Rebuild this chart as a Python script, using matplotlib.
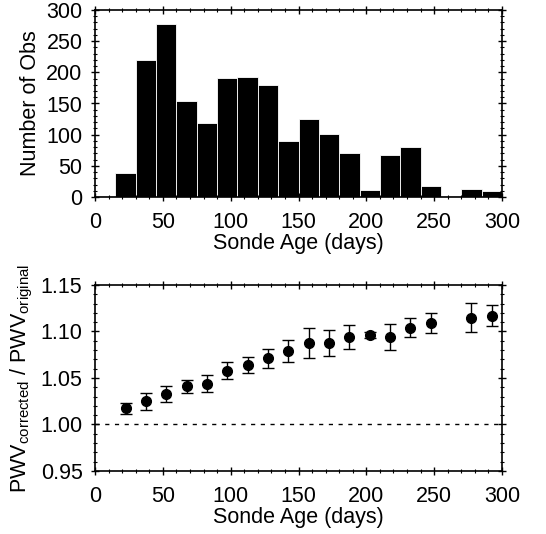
import matplotlib
matplotlib.use("Agg")
import matplotlib.pyplot as plt
from matplotlib.ticker import MultipleLocator
import numpy as np

plt.rcParams['font.family'] = ['Liberation Sans', 'DejaVu Sans']
plt.rcParams['font.size'] = 15.5

# Histogram data (15-day bins)
bin_edges = [0, 15, 30, 45, 60, 75, 90, 105, 120, 135, 150, 165, 180, 195, 210, 225, 240, 255, 270, 285, 300]
counts = [0, 38, 220, 277, 154, 119, 191, 193, 180, 90, 125, 101, 71, 12, 67, 80, 18, 0, 13, 10]

# Ratio data
ages = [22.5, 37.5, 52.5, 67.5, 82.5, 97.5, 112.5, 127.5, 142.5, 157.5, 172.5,
        187.5, 202.5, 217.5, 232.5, 247.5, 277.5, 292.5]
ratio = [1.0175, 1.025, 1.033, 1.041, 1.044, 1.058, 1.064, 1.071, 1.079, 1.088, 1.088,
         1.094, 1.096, 1.094, 1.104, 1.109, 1.115, 1.117]
ratio_err = [0.006, 0.009, 0.0085, 0.007, 0.0095, 0.009, 0.009, 0.010, 0.012, 0.016, 0.014,
             0.013, 0.003, 0.014, 0.010, 0.011, 0.016, 0.011]

fig = plt.figure(figsize=(5.46, 5.34), dpi=100)
ax1 = fig.add_axes([95/546, 1-197/534, 407/546, 187/534])
ax2 = fig.add_axes([95/546, 1-471/534, 407/546, 186/534])

lefts = bin_edges[:-1]
widths = np.diff(bin_edges)
ax1.bar(lefts, counts, width=widths, align='edge', color='black', edgecolor='white', linewidth=0.6)
ax1.plot([0, 15], [0, 0], color='black', lw=1)
ax1.plot([255, 270], [0, 0], color='black', lw=1)
ax1.set_xlim(0, 300)
ax1.set_ylim(0, 300)
ax1.set_ylabel('Number of Obs', labelpad=4)
ax1.set_xlabel('Sonde Age (days)', labelpad=0)
ax1.xaxis.set_major_locator(MultipleLocator(50))
ax1.xaxis.set_minor_locator(MultipleLocator(10))
ax1.yaxis.set_major_locator(MultipleLocator(50))
ax1.yaxis.set_minor_locator(MultipleLocator(10))

ax2.errorbar(ages, ratio, yerr=ratio_err, fmt='o', color='black', markersize=7,
             capsize=4, elinewidth=1, capthick=1)
ax2.axhline(1.0, color='black', lw=1, ls=(0, (3, 4)))
ax2.set_xlim(0, 300)
ax2.set_ylim(0.95, 1.15)
ax2.set_xlabel('Sonde Age (days)', labelpad=0)
ax2.set_ylabel(r'PWV$_{\mathregular{corrected}}$ / PWV$_{\mathregular{original}}$', labelpad=4)
ax2.xaxis.set_major_locator(MultipleLocator(50))
ax2.xaxis.set_minor_locator(MultipleLocator(10))
ax2.yaxis.set_major_locator(MultipleLocator(0.05))
ax2.yaxis.set_minor_locator(MultipleLocator(0.01))
ax2.yaxis.set_major_formatter(matplotlib.ticker.FormatStrFormatter('%.2f'))

for ax in (ax1, ax2):
    ax.tick_params(which='both', direction='inout', top=True, right=True)
    ax.tick_params(which='major', length=6, width=1)
    ax.tick_params(which='minor', length=3, width=0.8)
    ax.tick_params(axis='x', which='major', pad=8)
    ax.tick_params(axis='y', which='major', pad=6)
    for s in ax.spines.values():
        s.set_linewidth(1.2)

fig.savefig('out.png', dpi=100)
